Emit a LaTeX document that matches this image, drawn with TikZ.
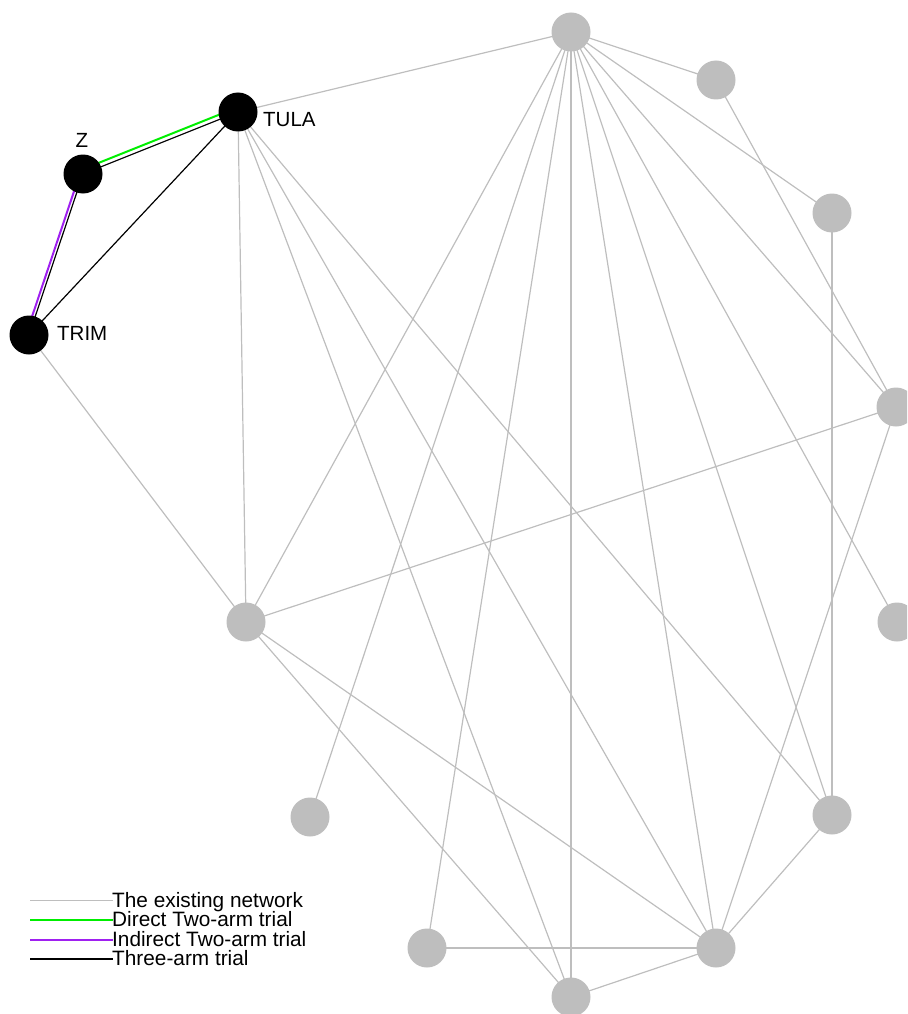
\documentclass[tikz,border=0pt]{standalone}
\usepackage{fontspec}
\setmainfont{Liberation Sans}
\usepackage{xcolor}
\usetikzlibrary{calc,positioning}

\definecolor{netgray}{RGB}{190,190,190}
\definecolor{directgreen}{RGB}{0,238,0}
\definecolor{indirectpurple}{RGB}{160,32,240}

\tikzset{
  graynode/.style={circle,fill=netgray,draw=none,inner sep=0pt,minimum size=39pt},
  blacknode/.style={circle,fill=black,draw=none,inner sep=0pt,minimum size=39pt},
  netedge/.style={line width=1.2pt,draw=netgray},
  threearm/.style={line width=1.2pt,draw=black},
  directarm/.style={line width=2pt,draw=directgreen},
  indirectarm/.style={line width=2pt,draw=indirectpurple},
  lbl/.style={inner sep=0pt,font=\fontsize{20.5}{24}\selectfont},
  legtext/.style={inner sep=0pt,anchor=base west,font=\fontsize{20.8}{24}\selectfont}
}

\begin{document}
\begin{tikzpicture}[x=1pt,y=-1pt]
                    \useasboundingbox (0,0) rectangle (907,1014);
                    \clip (0,0) rectangle (907,1014);

                    % Placing points of the network
                    \coordinate (p1) at (571,32);
                    \coordinate (p2) at (716,80);
                    \coordinate (p3) at (832,213);
                    \coordinate (p4) at (896,407);
                    \coordinate (p5) at (897,622);
                    \coordinate (p6) at (832,815);
                    \coordinate (p7) at (716,948);
                    \coordinate (p8) at (571,997);
                    \coordinate (p9) at (427,948);
                    \coordinate (p10) at (310,817);
                    \coordinate (p11) at (246,622);
                    \coordinate (trim) at (29,335);
                    \coordinate (z) at (83,174);
                    \coordinate (tula) at (238,112);

                    % Drawing segments of the existing network
                    \draw [netedge] (p1) -- (tula);%
                    \draw [netedge] (p1) -- (p2);%
                    \draw [netedge] (p1) -- (p3);%
                    \draw [netedge] (p1) -- (p4);%
                    \draw [netedge] (p1) -- (p5);%
                    \draw [netedge] (p1) -- (p6);%
                    \draw [netedge] (p1) -- (p7);%
                    \draw [netedge] (p1) -- (p8);%
                    \draw [netedge] (p1) -- (p9);%
                    \draw [netedge] (p1) -- (p10);%
                    \draw [netedge] (p1) -- (p11);%
                    \draw [netedge] (p2) -- (p4);%
                    \draw [netedge] (p3) -- (p6);%
                    \draw [netedge] (p4) -- (p7);%
                    \draw [netedge] (p4) -- (p11);%
                    \draw [netedge] (p6) -- (p7);%
                    \draw [netedge] (p6) -- (tula);%
                    \draw [netedge] (p7) -- (p8);%
                    \draw [netedge] (p7) -- (p9);%
                    \draw [netedge] (p7) -- (p11);%
                    \draw [netedge] (p7) -- (tula);%
                    \draw [netedge] (p8) -- (p11);%
                    \draw [netedge] (p8) -- (tula);%
                    \draw [netedge] (p11) -- (tula);%
                    \draw [netedge] (p11) -- (trim);%

                    % Drawing segments of the three-arm trial
                    \draw [threearm] (z) -- (tula);%
                    \draw [threearm] (z) -- (trim);%
                    \draw [threearm] (trim) -- (tula);%

                    % Drawing segment z tula (direct)
                    \draw [directarm] ($(z)!4.5pt!90:(tula)$) -- ($(tula)!4.5pt!-90:(z)$);%

                    % Drawing segment z trim (indirect)
                    \draw [indirectarm] ($(z)!3pt!-90:(trim)$) -- ($(trim)!3pt!90:(z)$);%

                    % Filling circles
                    \foreach \p in {p1,p2,p3,p4,p5,p6,p7,p8,p9,p10,p11}
                      \node [graynode] (n\p) at (\p) {};
                    \node [blacknode] (ntula) at (tula) {};
                    \node [blacknode] (nz) at (z) {};
                    \node [blacknode] (ntrim) at (trim) {};

                    % Marking points
                    \node [lbl,anchor=base west] (ltula) at (263,127) {TULA};
                    \node [lbl,anchor=base] (lz) at (82,147) {Z};
                    \node [lbl,anchor=base west] (ltrim) at (57,340) {TRIM};

                    % Drawing legend
                    \coordinate (lga) at (30,900.5);
                    \coordinate (lgb) at (113,900.5);
                    \coordinate (lgc) at (30,920);
                    \coordinate (lgd) at (113,920);
                    \coordinate (lge) at (30,939.5);
                    \coordinate (lgf) at (113,939.5);
                    \coordinate (lgg) at (30,959);
                    \coordinate (lgh) at (113,959);
                    \draw [line width=1.4pt,draw=netgray] (lga) -- (lgb);%
                    \draw [directarm] (lgc) -- (lgd);%
                    \draw [indirectarm] (lge) -- (lgf);%
                    \draw [line width=2pt,draw=black] (lgg) -- (lgh);%
                    \node [legtext] (lgnet) at (112,907) {The existing network};
                    \node [legtext] (lgdir) at (112,926.5) {Direct Two-arm trial};
                    \node [legtext] (lgind) at (112,946) {Indirect Two-arm trial};
                    \node [legtext] (lgthr) at (112,965.5) {Three-arm trial};
\end{tikzpicture}
\end{document}
